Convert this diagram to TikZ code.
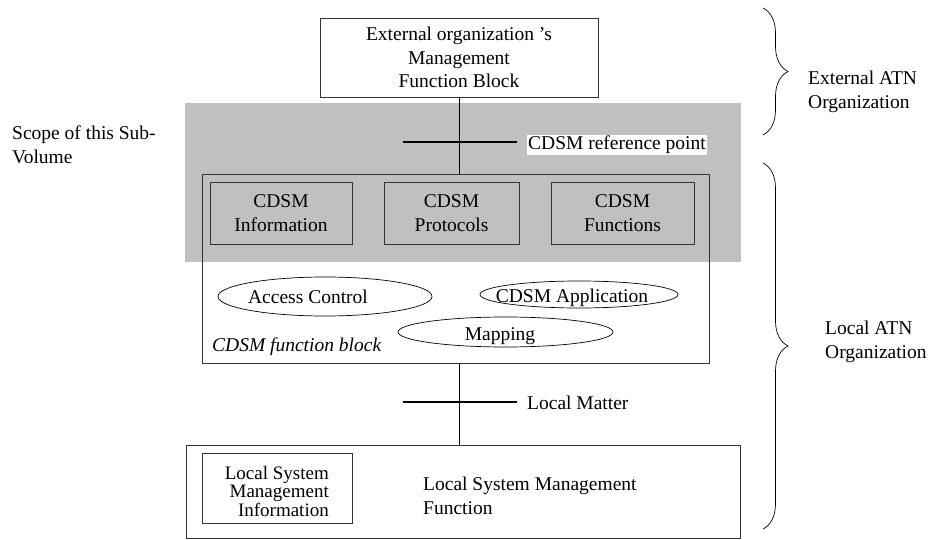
\documentclass[tikz,border=0pt]{standalone}
\usepackage{fontspec}
\setmainfont{Liberation Serif}
\usetikzlibrary{shapes.geometric,decorations.pathreplacing}
\definecolor{scopegray}{HTML}{C0C0C0}
\definecolor{edge}{HTML}{333333}
\tikzset{
  txt/.style={font=\fontsize{19.5}{23.5}\selectfont, inner sep=0pt},
  box/.style={draw=edge, line width=0.8pt, rectangle, inner sep=0pt, txt, align=center},
  oval/.style={draw=black, ellipse, line width=0.7pt, inner sep=0pt},
  link/.style={line width=0.8pt},
  bar/.style={line width=2pt},
  curly/.style={decorate, decoration={brace, amplitude=25pt, aspect=0.5}, line width=0.7pt},
}
\begin{document}
\begin{tikzpicture}[x=1pt, y=-1pt]
\useasboundingbox (0,0) rectangle (932,540);

% shaded scope of the sub-volume
\fill[scopegray] (185,103) rectangle (741,262);

% external management function block
\node[box, minimum width=278pt, minimum height=79pt] (ext) at (459,57.5)
  {External organization 's\\Management\hspace*{22pt}\\Function Block};

% CDSM function block and its parts
\node[box, minimum width=507pt, minimum height=189pt] (block) at (455.5,268.5) {};
\node[box, minimum width=142pt, minimum height=62pt] (info) at (281,213) {CDSM\\Information};
\node[box, minimum width=135pt, minimum height=62pt] (proto) at (451.5,213) {CDSM\\Protocols};
\node[box, minimum width=143pt, minimum height=62pt] (func) at (622.5,213) {CDSM\\Functions};

\node[oval, minimum width=214pt, minimum height=39pt] (acc) at (325,296.5) {};
\node[txt] (acct) at (308,297) {Access Control};
\node[oval, minimum width=198pt, minimum height=27pt] (app) at (579,294.5) {};
\node[txt] (appt) at (572,298) {CDSM Application};
\node[oval, minimum width=215pt, minimum height=30pt] (map) at (505.5,332) {};
\node[txt] (mapt) at (500,336) {Mapping};
\node[txt, anchor=west, font=\fontsize{19.5}{23.5}\selectfont\itshape] (blockt) at (212,347) {CDSM function block};

% local system management function
\node[box, minimum width=554pt, minimum height=93pt] (local) at (463,491.5) {};
\node[box, minimum width=150pt, minimum height=70pt] (lsmi) at (277,488) {};
\node[txt, align=right, anchor=east, font=\fontsize{19}{18.5}\selectfont] (lsmit) at (329,491)
  {Local System\\Management\\Information};
\node[txt, align=left, anchor=west] (localt) at (423,496) {Local System Management\\Function};

% connections with their reference points
\draw[link] (ext.south) -- (ext.south |- block.north);
\coordinate (refL) at (403,142);
\coordinate (refR) at (517,142);
\draw[bar] (refL) -- (refR);
\node[txt, anchor=west, fill=white, inner sep=1pt] (reft) at (527,145) {CDSM reference point};

\draw[link] (ext.south |- block.south) -- (ext.south |- local.north);
\coordinate (locL) at (403,402);
\coordinate (locR) at (517,402);
\draw[bar] (locL) -- (locR);
\node[txt, anchor=west] (loct) at (527,403) {Local Matter};

% scope label
\node[txt, align=left, anchor=west] (scope) at (12,145) {Scope of this Sub-\\Volume};

% organization braces
\coordinate (b1t) at (763,8);
\coordinate (b1b) at (763,135);
\draw[curly] (b1t) -- (b1b);
\node[txt, align=left, anchor=west] (extorg) at (808,92) {External ATN\\Organization};

\coordinate (b2t) at (763,163);
\coordinate (b2b) at (763,529);
\draw[curly] (b2t) -- (b2b);
\node[txt, align=left, anchor=west] (locorg) at (825,342) {Local ATN\\Organization};
\end{tikzpicture}
\end{document}
